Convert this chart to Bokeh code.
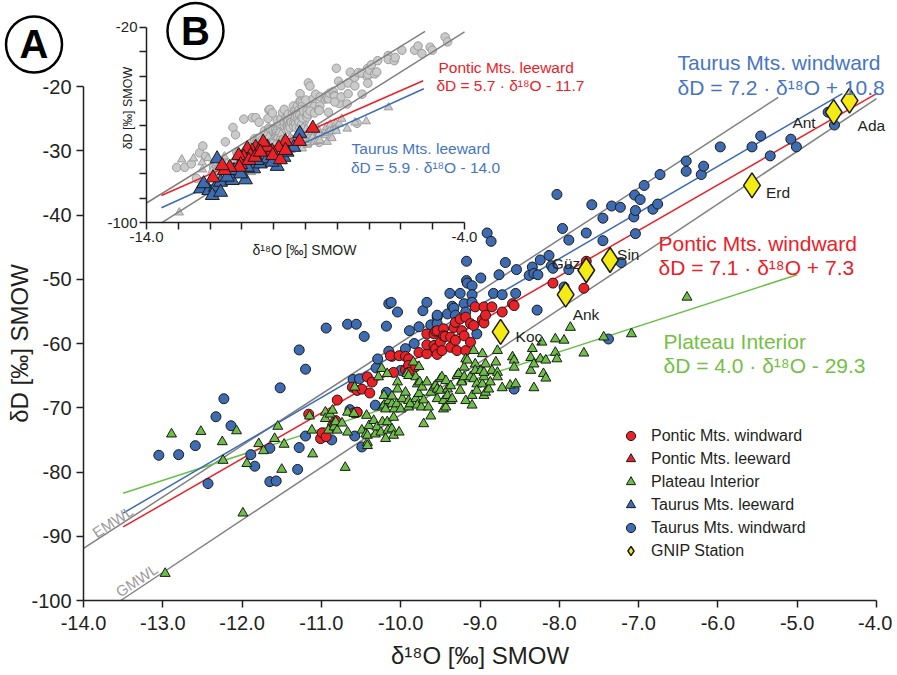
import math
from bokeh.plotting import figure
from bokeh.models import (Range1d, LinearAxis, FixedTicker, PrintfTickFormatter,
                          Legend, LegendItem, ColumnDataSource)
from bokeh.core.properties import value
from bokeh.embed import file_html
from bokeh.resources import INLINE

FONT = "Liberation Sans"

# ---------------- data ----------------
# Taurus Mts. windward (blue circles)
tw_x = [-13.05, -12.80, -12.59, -12.43, -12.33, -12.23, -12.14, -11.89, -11.84, -11.65, -11.65, -11.57,
        -11.52, -11.30, -11.28, -11.28, -11.20, -11.20, -11.00, -10.94, -10.87, -10.67, -10.64, -10.60,
        -10.58, -10.56, -10.55, -10.52, -10.49, -10.46, -10.32, -10.31, -10.29, -10.18, -10.18, -10.15,
        -10.15, -10.12, -10.11, -10.04, -10.00, -9.94, -9.89, -9.83, -9.77, -9.72, -9.67, -9.62, -9.54,
        -9.54, -9.54, -9.41, -9.38, -9.35, -9.33, -9.31, -9.25, -9.20, -9.18, -9.17, -9.17, -9.16, -9.10,
        -9.10, -9.10, -9.04, -8.99, -8.91, -8.86, -8.83, -8.76, -8.72, -8.68, -8.57, -8.55, -8.54, -8.38,
        -8.34, -8.32, -8.28, -8.27, -8.24, -8.13, -8.10, -8.08, -8.03, -7.96, -7.94, -7.88, -7.88, -7.66,
        -7.59, -7.45, -7.45, -7.38, -7.34, -7.23, -7.22, -7.06, -7.05, -7.04, -7.04, -6.98, -6.93, -6.82,
        -6.76, -6.73, -6.40, -6.40, -6.21, -6.18, -5.97, -5.57, -5.46, -5.34, -5.08, -5.01, -4.61, -4.53]
tw_y = [-77.4, -77.3, -75.9, -81.8, -71.4, -68.6, -72.8, -77.3, -79.1, -76.3, -81.5, -81.4,
        -66.9, -79.6, -76.2, -61.0, -64.0, -74.4, -74.7, -57.6, -75.0, -57.0, -70.3, -65.6,
        -74.4, -57.0, -70.7, -65.5, -76.1, -58.9, -69.6, -63.8, -62.4, -67.6, -57.3, -61.2,
        -53.8, -53.6, -62.0, -55.1, -64.2, -60.8, -58.0, -60.0, -57.4, -54.9, -53.6, -57.1, -55.9,
        -56.9, -55.6, -55.4, -52.2, -54.2, -54.5, -55.6, -52.2, -53.8, -55.1, -47.2, -50.2, -50.6, -51.0,
        -52.4, -53.6, -58.5, -49.8, -42.8, -44.1, -52.2, -49.3, -52.4, -47.4, -67.1, -52.2, -48.5, -49.4,
        -48.1, -49.1, -54.8, -49.3, -47.0, -46.3, -47.9, -48.3, -36.8, -42.1, -51.2, -43.9, -48.5, -42.8,
        -38.4, -40.5, -44.0, -59.3, -38.6, -38.8, -47.4, -40.3, -36.9, -39.3, -42.9, -37.6, -35.4, -39.1,
        -38.3, -33.7, -31.6, -33.2, -33.7, -32.4, -29.4, -29.4, -27.7, -30.8, -28.2, -29.4, -24.0, -26.0]

# Pontic Mts. windward (red circles)
pw_x = [-11.16, -11.01, -10.99, -10.94, -10.86, -10.82, -10.80, -10.61, -10.59, -10.55, -10.55, -10.49,
        -10.42, -10.39, -10.36, -10.13, -10.09, -10.02, -9.94, -9.94, -9.90, -9.90, -9.90, -9.81, -9.77,
        -9.67, -9.67, -9.67, -9.58, -9.58, -9.56, -9.56, -9.54, -9.54, -9.50, -9.48, -9.46, -9.46, -9.44,
        -9.37, -9.37, -9.33, -9.31, -9.31, -9.29, -9.25, -9.23, -9.20, -9.18, -9.18, -9.12, -9.12, -9.08,
        -9.06, -8.97, -8.95, -8.95, -8.93, -8.85, -8.72, -8.59, -8.57, -8.08, -7.69, -7.66]
pw_y = [-71.0, -74.8, -73.9, -74.5, -72.8, -72.0, -68.8, -66.8, -70.8, -70.7, -67.3, -67.1,
        -65.2, -67.7, -66.0, -61.9, -64.5, -61.9, -62.0, -64.1, -62.4, -63.4, -64.5, -63.6, -61.4,
        -61.6, -60.2, -58.5, -60.3, -58.5, -60.8, -58.1, -61.7, -58.0, -59.8, -61.1, -57.7, -58.8, -58.9,
        -59.0, -60.6, -57.5, -56.7, -59.5, -61.1, -56.2, -58.0, -58.8, -55.9, -61.1, -56.9, -59.8, -57.2,
        -54.3, -56.3, -54.3, -56.8, -55.6, -54.3, -55.1, -53.8, -54.1, -50.6, -51.4, -47.2]

# Plateau Interior (green triangles)
pi_x = [-12.97, -12.89, -12.52, -12.25, -12.24, -12.07, -11.99, -11.94, -11.79, -11.73, -11.59, -11.55,
        -11.50, -11.47, -11.15, -11.12, -11.11, -10.95, -10.95, -10.91, -10.89, -10.86, -10.84, -10.84,
        -10.82, -10.80, -10.74, -10.70, -10.67, -10.67, -10.59, -10.58, -10.49, -10.44, -10.43, -10.42,
        -10.42, -10.42, -10.40, -10.34, -10.32, -10.30, -10.28, -10.25, -10.24, -10.23, -10.23, -10.21,
        -10.21, -10.19, -10.19, -10.17, -10.17, -10.16, -10.15, -10.11, -10.11, -10.11, -10.09, -10.09,
        -10.08, -10.05, -10.04, -10.04, -10.02, -10.00, -9.98, -9.94, -9.92, -9.90, -9.90, -9.90, -9.88,
        -9.84, -9.81, -9.81, -9.79, -9.79, -9.77, -9.77, -9.76, -9.74, -9.73, -9.71, -9.71, -9.67, -9.65,
        -9.62, -9.62, -9.58, -9.56, -9.54, -9.54, -9.50, -9.50, -9.48, -9.46, -9.46, -9.43, -9.43, -9.41,
        -9.41, -9.37, -9.37, -9.35, -9.29, -9.27, -9.25, -9.23, -9.23, -9.20, -9.20, -9.18, -9.18, -9.16,
        -9.12, -9.10, -9.10, -9.08, -9.08, -9.06, -9.06, -9.04, -9.04, -8.99, -8.97, -8.97, -8.95, -8.95,
        -8.95, -8.93, -8.93, -8.89, -8.87, -8.85, -8.80, -8.78, -8.78, -8.78, -8.72, -8.62, -8.59, -8.57,
        -8.57, -8.55, -8.36, -8.36, -8.34, -8.32, -8.32, -8.24, -8.22, -8.20, -8.17, -8.17, -8.05, -8.05,
        -8.03, -7.94, -7.86, -7.69, -7.44, -7.09, -6.39]
pi_y = [-95.8, -74.1, -73.7, -75.3, -78.2, -73.6, -86.4, -78.7, -75.6, -76.7, -74.8, -72.9,
        -79.6, -75.7, -71.3, -73.5, -77.2, -70.7, -71.7, -73.5, -71.0, -70.4, -72.4, -73.0,
        -72.2, -73.5, -72.4, -79.3, -70.7, -73.8, -70.9, -66.8, -73.5, -74.1, -71.2, -75.4,
        -75.9, -74.3, -72.8, -72.0, -74.1, -73.0, -65.2, -73.8, -63.9, -72.2, -69.9, -68.1,
        -69.6, -74.8, -70.2, -64.7, -72.2, -73.5, -68.9, -69.4, -68.2, -73.3, -71.5, -74.3,
        -70.2, -69.4, -66.0, -67.1, -73.8, -70.2, -68.6, -67.6, -64.7, -65.0, -68.9, -69.9, -69.4,
        -62.9, -65.2, -68.6, -66.3, -69.6, -63.6, -67.8, -66.0, -69.9, -66.8, -68.8, -72.5, -66.0, -69.9,
        -67.6, -71.3, -66.8, -66.5, -67.1, -68.6, -65.5, -67.3, -65.2, -68.9, -70.2, -65.8, -69.9, -67.1,
        -68.1, -66.6, -68.9, -68.6, -65.0, -64.7, -67.3, -65.8, -66.0, -63.7, -65.2, -62.4, -68.9, -62.6,
        -65.2, -68.1, -69.6, -61.1, -65.5, -63.2, -64.2, -66.3, -67.3, -64.2, -61.6, -66.3, -65.2, -64.5,
        -68.1, -63.2, -67.6, -67.1, -66.0, -64.2, -62.9, -61.1, -64.5, -65.2, -66.9, -66.5, -62.1, -62.6,
        -63.7, -66.3, -62.2, -64.2, -60.8, -63.2, -66.9, -62.4, -59.8, -64.7, -62.6, -65.4, -59.3, -61.4,
        -62.4, -59.5, -57.5, -61.5, -59.0, -58.5, -52.8]

# Pontic Mts. leeward (red triangles, inset B)
pl_x = [-8.77, -9.19, -9.63, -9.84, -10.05, -10.20, -10.33, -10.57, -10.47, -10.68, -10.83, -10.73,
        -10.94, -11.10, -11.04, -10.78, -10.03, -9.79, -9.63, -11.08, -11.38, -11.55, -11.62, -11.91,
        -10.59, -10.42]
pl_y = [-61.3, -66.7, -66.7, -69.3, -70.7, -69.1, -67.0, -69.1, -70.7, -70.7, -69.7, -72.5,
        -73.2, -72.5, -76.2, -74.5, -72.5, -74.2, -70.4, -77.3, -77.3, -78.6, -76.6, -81.6,
        -73.2, -71.1]

# Taurus Mts. leeward (blue triangles, inset B)
tl_x = [-9.18, -11.78, -9.89, -10.89, -12.30, -12.04, -11.83, -11.67, -11.31, -11.46, -11.25, -10.63,
        -10.42, -10.20, -9.68, -9.37, -12.20, -10.83, -11.04, -10.05, -11.93, -11.67, -10.52, -9.58]
tl_y = [-63.4, -73.8, -76.9, -82.4, -86.1, -86.8, -85.4, -83.4, -82.7, -81.3, -78.6, -77.9,
        -75.9, -73.8, -73.2, -69.1, -84.0, -77.3, -80.0, -75.2, -88.8, -87.5, -74.5, -71.1]

# GNIP stations
gnip_names = ["Ada", "Ant", "Erd", "Sin", "Güz", "Ank", "Koç"]
gnip_x = [-4.34, -4.54, -5.57, -7.36, -7.66, -7.92, -8.74]
gnip_y = [-22.2, -24.0, -35.4, -47.0, -48.6, -52.4, -58.2]

# meteoric water lines (end points)
emwl_x = [-14.0, -5.24]
emwl_y = [-91.9, -21.7]
gmwl_x = [-13.53, -4.0]
gmwl_y = [-100.0, -21.9]

# regression fits: slope, intercept, x extent
fits = {
    "tw": (7.2, 10.8, [-13.5, -4.43]),
    "pw": (7.1, 7.3, [-13.5, -4.0]),
    "pi": (4.0, -29.3, [-13.5, -5.0]),
    "pl": (5.7, -11.7, [-13.53, -5.30]),
    "tl": (5.9, -14.0, [-13.53, -5.28]),
}

x_ticks = [-14, -13, -12, -11, -10, -9, -8, -7, -6, -5, -4]
y_ticks = [-100, -90, -80, -70, -60, -50, -40, -30, -20]

# ---------------- colours ----------------
RED = "#EC2027"
BLUE = "#3D6CB3"
GREEN = "#6DBE45"
YELLOW = "#F5EB14"
EDGE = "#1A1A1A"
GRAYLINE = "#808080"
INK = "#231F20"

# ---------------- layout ----------------
W, H = 892, 672


def xrange_from(v0, p0, v1, p1):
    s = (p1 - p0) / (v1 - v0)
    return Range1d(start=v0 - p0 / s, end=v0 + (W - p0) / s)


def yrange_from(v0, p0, v1, p1):
    k = (v1 - v0) / (p1 - p0)
    return Range1d(start=v0 + (H - p0) * k, end=v0 - p0 * k)


p = figure(width=W, height=H, output_backend="svg", toolbar_location=None,
           x_range=xrange_from(-14, 83, -4, 876), y_range=yrange_from(-20, 86, -100, 600),
           x_axis_type=None, y_axis_type=None, title=None, min_border=0,
           min_border_left=0, min_border_right=0, min_border_top=0, min_border_bottom=0)
p.extra_x_ranges = {"ix": xrange_from(-14, 146, -4, 464)}
p.extra_y_ranges = {"iy": yrange_from(-20, 26.7, -100, 222.3)}
p.outline_line_color = None
p.background_fill_color = "white"
p.border_fill_color = "white"

# ---------------- axes ----------------
def style_axis(ax, label_size, tick_len):
    ax.axis_line_width = 1.5
    ax.axis_line_color = INK
    ax.major_tick_line_width = 1.5
    ax.major_tick_line_color = INK
    ax.major_tick_out = tick_len
    ax.major_tick_in = 0
    ax.minor_tick_line_width = 1.5
    ax.minor_tick_line_color = INK
    ax.minor_tick_out = tick_len
    ax.minor_tick_in = 0
    ax.major_label_text_font = FONT
    ax.major_label_text_font_size = label_size
    ax.major_label_text_color = INK
    ax.axis_label_text_font = FONT
    ax.axis_label_text_font_style = "normal"
    ax.axis_label_text_color = INK


xa = LinearAxis(fixed_location=-100, bounds=(-14, -4), ticker=FixedTicker(ticks=x_ticks),
                formatter=PrintfTickFormatter(format="%.1f"), axis_label="δ¹⁸O [‰] SMOW")
style_axis(xa, "20px", 7)
xa.major_label_standoff = 8
xa.axis_label_standoff = 9
xa.axis_label_text_font_size = "24px"
p.add_layout(xa, "below")

ya = LinearAxis(fixed_location=-14, bounds=(-100, -20), ticker=FixedTicker(ticks=y_ticks),
                formatter=PrintfTickFormatter(format="%d"), axis_label="δD [‰] SMOW")
style_axis(ya, "20px", 7)
ya.major_label_standoff = 5
ya.axis_label_standoff = -5
ya.axis_label_text_font_size = "24px"
p.add_layout(ya, "left")

ixa = LinearAxis(x_range_name="ix", y_range_name="iy", fixed_location=-100, bounds=(-14, -4),
                 ticker=FixedTicker(ticks=[-14, -4], minor_ticks=x_ticks[1:-1]),
                 formatter=PrintfTickFormatter(format="%.1f"))
style_axis(ixa, "15px", 7)
ixa.major_label_standoff = 2
p.add_layout(ixa, "below")

iya = LinearAxis(x_range_name="ix", y_range_name="iy", fixed_location=-14, bounds=(-100, -20),
                 ticker=FixedTicker(ticks=[-100, -20], minor_ticks=y_ticks[1:-1]),
                 formatter=PrintfTickFormatter(format="%d"))
style_axis(iya, "15px", 7)
iya.major_label_standoff = 2
p.add_layout(iya, "left")

# ---------------- inset B ----------------
IN = dict(x_range_name="ix", y_range_name="iy")
GFILL, GEDGE = "#CACACA", "#9C9C9C"
p.scatter(tw_x + pw_x, tw_y + pw_y, marker="circle", size=8.5, fill_color=GFILL,
          line_color=GEDGE, line_width=1, **IN)
p.scatter(pi_x, pi_y, marker="triangle", size=8.5, fill_color=GFILL,
          line_color=GEDGE, line_width=1, **IN)
p.line(emwl_x, emwl_y, line_color=GRAYLINE, line_width=1.5, **IN)
p.line(gmwl_x, gmwl_y, line_color=GRAYLINE, line_width=1.5, **IN)
for key, col in (("pl", RED), ("tl", BLUE)):
    m, b, xs = fits[key]
    p.line(xs, [m * v + b for v in xs], line_color=col, line_width=1.5, **IN)
r_tl = p.scatter(tl_x, tl_y, marker="triangle", size=14, fill_color=BLUE,
                 line_color=EDGE, line_width=1, **IN)
r_pl = p.scatter(pl_x, pl_y, marker="triangle", size=14, fill_color=RED,
                 line_color=EDGE, line_width=1, **IN)

# ---------------- main panel A ----------------
p.line(emwl_x, emwl_y, line_color=GRAYLINE, line_width=1.5)
p.line(gmwl_x, gmwl_y, line_color=GRAYLINE, line_width=1.5)
for key, col in (("pi", "#6CC04A"), ("tw", BLUE), ("pw", RED)):
    m, b, xs = fits[key]
    p.line(xs, [m * v + b for v in xs], line_color=col, line_width=1.5)

r_tw = p.scatter(tw_x, tw_y, marker="circle", size=10, fill_color=BLUE, line_color=EDGE, line_width=1)
r_pw = p.scatter(pw_x, pw_y, marker="circle", size=10, fill_color=RED, line_color=EDGE, line_width=1)
r_pi = p.scatter(pi_x, pi_y, marker="triangle", size=10, fill_color=GREEN, line_color=EDGE, line_width=1)

gsrc = ColumnDataSource(dict(x=gnip_x, y=gnip_y, name=gnip_names,
                             dx=[8, -18, 14, 7, -6, 7, 15], dy=[25, 10, 7, -5, -7, 20, 5],
                             align=["left", "right", "left", "left", "right", "left", "left"]))
r_gn = p.scatter("x", "y", source=gsrc, marker="diamond", size=25, fill_color=YELLOW,
                 line_color=EDGE, line_width=1.5)
p.text("x", "y", text="name", source=gsrc, x_offset="dx", y_offset="dy", text_align="align",
       text_baseline="alphabetic", text_font=value(FONT), text_font_size="15.5px", text_color=INK)

# line labels
p.text([-13.87], [-89.62], text=["EMWL"], angle=0.576, text_font=value(FONT), text_font_size="15px",
       text_color="#9A9A9A", text_align="left", text_baseline="alphabetic")
p.text([-13.575], [-98.86], text=["GMWL"], angle=0.586, text_font=value(FONT), text_font_size="15px",
       text_color="#9A9A9A", text_align="left", text_baseline="alphabetic")

def eq_label(xs, ys, lines, color, size):
    p.text(xs, ys, text=lines, text_font=value(FONT), text_font_size=size, text_color=color,
           text_align="left", text_baseline="alphabetic")

eq_label([-6.51, -6.51], [-16.31, -20.10], ["Taurus Mts. windward", "δD = 7.2 · δ¹⁸O + 10.8"], "#4775C2", "21px")
eq_label([-6.749, -6.749], [-44.44, -48.17], ["Pontic Mts. windward", "δD = 7.1 · δ¹⁸O + 7.3"], RED, "21px")
eq_label([-6.686, -6.686], [-59.64, -63.42], ["Plateau Interior", "δD = 4.0 · δ¹⁸O - 29.3"], "#74C044", "21px")
eq_label([-9.523, -9.55], [-17.04, -19.84], ["Pontic Mts. leeward", "δD = 5.7 · δ¹⁸O - 11.7"], RED, "15.5px")
eq_label([-10.62, -10.627], [-29.65, -32.61], ["Taurus Mts. leeward", "δD = 5.9 · δ¹⁸O - 14.0"], "#4775C2", "15.5px")

# inset axis titles
p.text([-11.213], [-45.4], text=["δ¹⁸O [‰] SMOW"], text_font=value(FONT), text_font_size="14px",
       text_color=INK, text_align="center", text_baseline="alphabetic")
p.text([-13.445], [-23.35], text=["δD [‰] SMOW"], angle=math.pi / 2, text_font=value(FONT),
       text_font_size="12.5px", text_color=INK, text_align="center", text_baseline="middle")

# panel letters
p.scatter([-14.624, -12.588], [-13.463, -11.362], marker="circle", size=56, fill_color=None,
          line_color="black", line_width=2.5)
p.text([-14.624, -12.588], [-13.463, -11.362], text=["A", "B"], text_font=value(FONT),
       text_font_style="bold", text_font_size="40px", text_color="black",
       text_align="center", text_baseline="middle")

# legend
legend = Legend(items=[
    LegendItem(label="Pontic Mts. windward", renderers=[r_pw]),
    LegendItem(label="Pontic Mts. leeward", renderers=[r_pl]),
    LegendItem(label="Plateau Interior", renderers=[r_pi]),
    LegendItem(label="Taurus Mts. leeward", renderers=[r_tl]),
    LegendItem(label="Taurus Mts. windward", renderers=[r_tw]),
    LegendItem(label="GNIP Station", renderers=[r_gn]),
], location=(619, 110), padding=0, margin=0, spacing=0, glyph_height=23, glyph_width=23,
    label_height=23, label_standoff=9, label_text_font=FONT, label_text_font_size="16px",
    label_text_color=INK, background_fill_alpha=0, border_line_alpha=0)
p.add_layout(legend)

open("out.html", "w").write(file_html(p, INLINE))
